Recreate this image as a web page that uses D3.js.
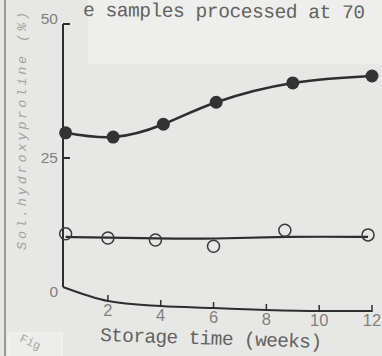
<!DOCTYPE html>
<html>
<head>
<meta charset="utf-8">
<script src="https://cdn.jsdelivr.net/npm/d3@7"></script>
<style>
  html, body { margin: 0; padding: 0; background: #e7e7e5; }
  svg { display: block; }
</style>
</head>
<body>
<div id="chart"></div>
<script>
// series values
const filledWeeks = [0.4, 2.2, 4.1, 6.1, 9.0, 12.0];
const filledValues = [29.7, 28.9, 31.3, 35.4, 39.0, 40.3];

const openWeeks = [0.4, 2.0, 3.8, 6.0, 8.7, 11.85];
const openValues = [10.3, 9.5, 9.1, 7.9, 11.0, 10.1];
// drawn trend line through the open circles
const openTrend = [9.7, 9.6, 9.4, 9.3, 9.8, 9.7];

const xTicks = [2, 4, 6, 8, 10, 12];
const yTicks = [0, 25, 50];

const titleText = "e samples processed at 70";
const xTitle = "Storage time (weeks)";
const yTitle = "Sol.hydroxyproline (%)";

const W = 382, H = 356;

const svg = d3.select("#chart")
  .append("svg")
  .attr("width", W)
  .attr("height", H);

// paper background and lighter scan patches
svg.append("rect").attr("width", W).attr("height", H).attr("fill", "#e7e7e5");
svg.append("rect").attr("x", 89).attr("y", -1).attr("width", 300).attr("height", 64)
  .attr("fill", "#eeeeec").attr("stroke", "#f6f6f5").attr("stroke-width", 1);
svg.append("rect").attr("x", 8).attr("y", 333).attr("width", 54).attr("height", 30)
  .attr("fill", "#ededeb").attr("stroke", "#f6f6f5").attr("stroke-width", 1);
svg.append("line").attr("x1", 5).attr("x2", 5).attr("y1", 0).attr("y2", H)
  .attr("stroke", "#9a9a98").attr("stroke-width", 2);

// scales (the scan is slightly warped, so y is piecewise)
const xScale = d3.scaleLinear().domain([0.3, 12]).range([63, 372]);
const yScale = d3.scaleLinear().domain([0, 25, 50]).range([287, 158, 24]);

// the x axis sags downward in the scan
const sagWeeks = [0.3, 2, 4, 6, 8, 10, 12];
const sagPx = [0, 14, 19, 21, 23, 24, 24];
const sag = d3.scaleLinear().domain(sagWeeks).range(sagPx);

const ink = "#2e2e2e";

// Y axis
svg.append("line")
  .attr("x1", xScale(0.3)).attr("x2", xScale(0.3))
  .attr("y1", yScale(50)).attr("y2", yScale(0))
  .attr("stroke", ink).attr("stroke-width", 2);

svg.selectAll(".ytick")
  .data(yTicks.filter(d => d > 0))
  .enter().append("line")
  .attr("x1", xScale(0.3)).attr("x2", xScale(0.3) + 7)
  .attr("y1", d => yScale(d)).attr("y2", d => yScale(d))
  .attr("stroke", ink).attr("stroke-width", 2);

const yLabelShift = { 0: 5, 25: 0, 50: -5 };
svg.selectAll(".ylab")
  .data(yTicks)
  .enter().append("text")
  .attr("x", 58)
  .attr("y", d => yScale(d) + yLabelShift[d])
  .attr("dy", "0.35em")
  .attr("text-anchor", "end")
  .attr("font-family", "Liberation Sans, sans-serif")
  .attr("font-size", 15.5)
  .attr("fill", "#80807e")
  .text(d => d);

// X axis (curved baseline)
const axisLine = d3.line()
  .x(d => xScale(d))
  .y(d => yScale(0) + sag(d))
  .curve(d3.curveMonotoneX);

svg.append("path")
  .attr("d", axisLine(sagWeeks))
  .attr("fill", "none")
  .attr("stroke", ink)
  .attr("stroke-width", 2);

svg.selectAll(".xtick")
  .data(xTicks)
  .enter().append("line")
  .attr("x1", d => xScale(d)).attr("x2", d => xScale(d))
  .attr("y1", d => yScale(0) + sag(d) - 6)
  .attr("y2", d => yScale(0) + sag(d) + 1)
  .attr("stroke", ink).attr("stroke-width", 1.5);

svg.selectAll(".xlab")
  .data(xTicks)
  .enter().append("text")
  .attr("x", d => xScale(d))
  .attr("y", d => yScale(0) + sag(d) + 15)
  .attr("text-anchor", "middle")
  .attr("font-family", "Liberation Sans, sans-serif")
  .attr("font-size", 16.5)
  .attr("fill", "#80807e")
  .text(d => d);

// axis titles
svg.append("text")
  .attr("x", 100).attr("y", 341)
  .attr("transform", "rotate(1.8,100,341)")
  .attr("font-family", "Liberation Mono, monospace")
  .attr("font-size", 19.5)
  .attr("fill", "#626260")
  .attr("textLength", 222)
  .text(xTitle);

svg.append("text")
  .attr("transform", "translate(26,250) rotate(-90)")
  .attr("font-family", "Liberation Mono, monospace")
  .attr("font-style", "italic")
  .attr("font-size", 13.5)
  .attr("fill", "#a2a2a0")
  .attr("textLength", 238)
  .text(yTitle);

// cropped caption at the top
svg.append("text")
  .attr("x", 83).attr("y", 16)
  .attr("transform", "rotate(0.5,83,16)")
  .attr("font-family", "Liberation Mono, monospace")
  .attr("font-size", 19.5)
  .attr("fill", "#626260")
  .attr("textLength", 282)
  .text(titleText);

svg.append("text")
  .attr("transform", "translate(19,341) rotate(25)")
  .attr("font-family", "Liberation Mono, monospace")
  .attr("font-size", 12)
  .attr("fill", "#a5a5a3")
  .text("Fig");

// filled series
const filled = filledWeeks.map((w, i) => ({ w: w, v: filledValues[i] }));
const line = d3.line()
  .x(d => xScale(d.w))
  .y(d => yScale(d.v))
  .curve(d3.curveNatural);

svg.append("path")
  .attr("d", line(filled))
  .attr("fill", "none")
  .attr("stroke", ink)
  .attr("stroke-width", 2.5);

svg.selectAll(".dotFilled")
  .data(filled)
  .enter().append("circle")
  .attr("cx", d => xScale(d.w))
  .attr("cy", d => yScale(d.v))
  .attr("r", 6.5)
  .attr("fill", "#333");

// open series
const openTrendPts = openWeeks.map((w, i) => ({ w: w, v: openTrend[i] }));
svg.append("path")
  .attr("d", line.curve(d3.curveBasis)(openTrendPts))
  .attr("fill", "none")
  .attr("stroke", ink)
  .attr("stroke-width", 2.2);

svg.selectAll(".dotOpen")
  .data(openWeeks.map((w, i) => ({ w: w, v: openValues[i] })))
  .enter().append("circle")
  .attr("cx", d => xScale(d.w))
  .attr("cy", d => yScale(d.v))
  .attr("r", 6)
  .attr("fill", "none")
  .attr("stroke", "#3a3a3a")
  .attr("stroke-width", 1.5);
</script>
</body>
</html>
